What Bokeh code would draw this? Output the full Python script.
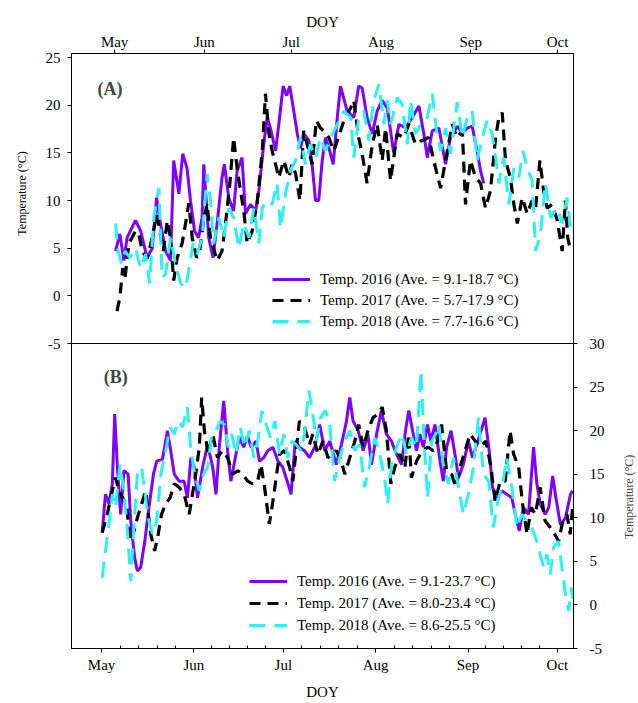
import math
from bokeh.plotting import figure
from bokeh.layouts import row
from bokeh.models import Range1d, FixedTicker, Legend, LegendItem, Label, LinearAxis, Span
from bokeh.embed import file_html
from bokeh.resources import INLINE

FONT = "Liberation Serif"
PURPLE = "#7F00FF"
CYAN = "#2AF2F2"

# Month ticks (day of year)
month_doy = [121, 152, 182, 213, 244, 274]
month_names = ["May", "Jun", "Jul", "Aug", "Sep", "Oct"]
ticks_a = [-5, 0, 5, 10, 15, 20, 25]
ticks_b = [-5, 0, 5, 10, 15, 20, 25, 30]
y_title = "Temperature (\u00b0C)"

legend_a = ["Temp. 2016 (Ave. = 9.1-18.7 \u00b0C)",
            "Temp. 2017 (Ave. = 5.7-17.9 \u00b0C)",
            "Temp. 2018 (Ave. = 7.7-16.6 \u00b0C)"]
legend_b = ["Temp. 2016 (Ave. = 9.1-23.7 \u00b0C)",
            "Temp. 2017 (Ave. = 8.0-23.4 \u00b0C)",
            "Temp. 2018 (Ave. = 8.6-25.5 \u00b0C)"]

# Panel A: (DOY, temperature)
a2016 = [(121.3, 4.7), (122.8, 6.5), (124.2, 3.7), (125.3, 6.1), (128.2, 7.9), (130.0, 6.8),
         (132.2, 4.0), (134.0, 5.0), (135.5, 10.3), (136.8, 7.6), (138.6, 4.7), (140.3, 3.7),
         (141.4, 14.2), (143.2, 10.7), (144.5, 14.9), (146.0, 13.4), (147.2, 10.0), (148.6, 6.8),
         (150.0, 6.1), (151.2, 8.2), (151.8, 13.8), (153.5, 6.1), (155.0, 4.0), (156.4, 7.6),
         (158.1, 12.4), (158.9, 13.8), (160.4, 10.3), (162.1, 8.9), (163.3, 13.1), (165.0, 14.5),
         (166.2, 8.6), (167.9, 9.6), (169.7, 8.9), (170.8, 11.0), (172.5, 15.9), (173.7, 18.7),
         (174.8, 17.6), (176.6, 15.2), (177.7, 18.0), (179.2, 22.0), (180.4, 21.0), (181.5, 22.0),
         (182.7, 19.7), (184.1, 17.0), (185.2, 15.5), (186.3, 17.0), (188.1, 16.3), (189.2, 13.8),
         (190.4, 10.0), (191.5, 10.0), (192.7, 14.2), (193.8, 16.6), (195.3, 15.2), (196.5, 13.8),
         (197.9, 18.7), (199.0, 22.0), (201.3, 19.4), (203.6, 18.7), (205.3, 22.0), (206.5, 21.8),
         (208.2, 18.7), (210.0, 17.0), (211.7, 19.4), (213.4, 20.5), (215.2, 19.7), (216.3, 17.3),
         (217.4, 15.0), (219.2, 18.0), (221.5, 17.6), (223.8, 18.7), (226.1, 19.9), (227.8, 17.0),
         (229.0, 14.5), (230.7, 17.3), (233.0, 17.6), (235.3, 13.8), (237.0, 16.6), (239.3, 17.8),
         (241.1, 17.1), (242.8, 17.6), (244.5, 17.8), (246.2, 15.2), (247.4, 13.1), (248.5, 11.8)]

a2017 = [(121.8, -1.6), (122.8, -0.2), (123.8, 2.9), (124.6, 1.9), (125.9, 5.5), (128.2, 6.8),
         (129.3, 6.6), (130.5, 4.7), (132.2, 3.9), (134.0, 6.1), (135.5, 8.6), (136.6, 6.8),
         (137.8, 4.7), (139.2, 7.9), (140.3, 6.1), (141.4, 1.6), (142.6, 4.0), (144.3, 5.5),
         (145.5, 7.6), (146.6, 9.7), (147.8, 6.1), (149.3, 4.0), (150.4, 4.7), (151.6, 7.6),
         (152.9, 9.7), (154.1, 6.1), (156.4, 3.7), (158.1, 4.7), (159.3, 7.6), (160.8, 11.8),
         (162.1, 16.6), (163.3, 13.4), (164.5, 11.0), (165.6, 8.9), (166.8, 5.5), (168.5, 6.8),
         (170.2, 9.7), (172.0, 15.2), (173.1, 21.2), (174.3, 17.0), (175.4, 15.2), (176.6, 13.8),
         (177.7, 12.4), (179.4, 14.2), (181.2, 12.4), (182.3, 13.8), (183.5, 12.8), (185.0, 10.0),
         (186.3, 17.3), (188.1, 15.2), (189.2, 13.8), (190.7, 18.4), (192.1, 17.6), (193.2, 17.3),
         (195.0, 16.6), (196.7, 15.2), (198.5, 16.8), (200.2, 18.4), (202.5, 19.7), (203.6, 20.5),
         (205.3, 16.6), (206.5, 14.9), (208.2, 11.8), (210.0, 15.9), (211.7, 18.0), (213.4, 14.2),
         (214.6, 17.6), (216.3, 12.1), (218.6, 17.0), (220.9, 16.6), (222.6, 18.0), (224.9, 15.9),
         (227.2, 16.3), (229.5, 16.6), (231.2, 14.2), (233.6, 11.3), (235.9, 15.2), (237.6, 18.0),
         (239.3, 16.6), (241.1, 17.3), (242.2, 9.6), (243.9, 14.2), (245.7, 12.4), (247.4, 11.8),
         (249.1, 9.2), (250.8, 11.0), (252.6, 16.6), (253.7, 18.7), (254.9, 19.2), (256.0, 14.2),
         (257.7, 12.4), (258.9, 9.6), (260.1, 7.6), (261.8, 10.3), (263.5, 8.6), (265.2, 10.0),
         (266.4, 9.2), (267.9, 14.2), (269.2, 11.0), (270.4, 9.2), (272.1, 9.6), (273.9, 7.9),
         (275.6, 4.7), (276.7, 10.0), (277.5, 6.1), (278.5, 4.7)]

a2018 = [(121.3, 7.6), (122.2, 4.7), (123.4, 3.4), (124.6, 4.7), (126.2, 4.0), (128.2, 5.0),
         (130.0, 2.9), (131.7, 4.4), (133.1, 1.3), (134.5, 8.2), (136.3, 11.3), (137.4, 1.9),
         (138.6, 2.3), (140.3, 6.1), (142.0, 3.4), (143.8, 1.3), (145.5, 0.8), (147.0, 3.4),
         (148.1, 5.5), (149.5, 4.4), (151.2, 6.1), (152.9, 12.8), (154.1, 10.0), (155.2, 5.5),
         (157.0, 8.2), (158.7, 6.1), (160.4, 9.2), (162.1, 8.2), (163.9, 5.0), (165.6, 7.6),
         (167.4, 6.1), (169.1, 9.2), (170.8, 5.5), (172.0, 9.2), (173.7, 10.0), (175.4, 9.6),
         (177.1, 11.8), (178.3, 7.1), (180.0, 10.7), (181.7, 13.1), (183.5, 14.2), (185.2, 16.6),
         (186.9, 13.8), (188.6, 15.9), (190.4, 14.5), (192.1, 16.6), (193.8, 15.2), (195.6, 16.6),
         (197.3, 17.6), (200.2, 19.4), (202.5, 18.7), (203.6, 14.5), (205.3, 18.7), (207.1, 19.4),
         (208.8, 16.3), (210.5, 20.5), (212.3, 22.2), (214.0, 18.0), (215.2, 20.5), (216.3, 18.0),
         (218.6, 20.8), (220.3, 20.1), (222.1, 15.9), (223.2, 20.5), (224.9, 17.0), (226.7, 18.0),
         (229.0, 18.7), (230.7, 21.2), (232.2, 17.3), (233.6, 15.2), (235.3, 17.6), (237.0, 14.9),
         (239.3, 20.3), (241.1, 16.6), (242.8, 18.7), (244.5, 19.4), (246.2, 14.2), (248.0, 16.6),
         (249.7, 18.4), (251.4, 17.0), (252.6, 14.5), (253.7, 11.8), (255.4, 14.5), (257.2, 9.6),
         (258.9, 13.4), (260.6, 12.4), (262.1, 15.2), (263.5, 13.4), (265.2, 12.1), (266.4, 4.7),
         (268.1, 6.5), (269.8, 11.8), (271.6, 8.2), (273.9, 9.2), (275.6, 7.6), (277.3, 10.3),
         (278.5, 7.1)]

# Panel B: (DOY, temperature)
b2016 = [(121.2, 8.3), (122.3, 12.7), (123.5, 11.6), (124.6, 13.9), (125.4, 21.9), (126.3, 15.8),
         (127.4, 10.4), (128.5, 15.4), (129.9, 15.0), (130.8, 9.6), (132.1, 5.4), (133.0, 3.9),
         (134.1, 4.3), (135.5, 7.3), (136.9, 11.2), (138.4, 15.0), (139.5, 16.5), (141.4, 16.7),
         (143.1, 20.0), (144.2, 17.7), (145.4, 15.0), (147.0, 14.2), (148.7, 14.2), (149.8, 12.3),
         (151.0, 16.9), (152.1, 15.8), (153.2, 12.3), (154.9, 15.8), (156.6, 18.4), (158.3, 15.8),
         (159.4, 12.7), (160.5, 18.1), (162.0, 23.4), (163.3, 17.7), (164.4, 14.2), (166.1, 17.3),
         (167.2, 19.2), (168.7, 18.1), (170.0, 19.4), (171.2, 18.1), (172.8, 18.8), (174.0, 16.5),
         (175.4, 16.9), (176.8, 17.7), (178.5, 18.1), (180.2, 16.5), (181.8, 15.8), (183.3, 14.2),
         (184.6, 12.7), (186.0, 18.8), (187.4, 18.1), (189.1, 17.7), (190.8, 16.9), (192.5, 18.1),
         (194.2, 20.7), (195.9, 17.7), (197.6, 18.8), (199.8, 16.1), (201.5, 18.4), (203.2, 21.1),
         (204.3, 23.8), (205.4, 21.1), (207.1, 20.0), (208.8, 17.7), (210.4, 19.6), (211.6, 16.1),
         (213.3, 19.6), (214.9, 22.3), (216.6, 19.6), (218.3, 18.8), (220.0, 17.3), (221.7, 16.1),
         (223.0, 20.0), (224.1, 22.3), (225.6, 19.6), (226.7, 17.7), (227.8, 19.6), (229.0, 18.1),
         (230.4, 20.7), (231.5, 18.8), (232.9, 20.7), (234.6, 16.5), (235.7, 14.2), (236.8, 18.1),
         (238.3, 20.0), (239.6, 17.3), (240.8, 14.6), (242.4, 16.1), (244.1, 18.8), (245.5, 16.9),
         (246.9, 18.4), (248.4, 20.0), (249.7, 21.5), (251.1, 17.7), (252.2, 13.5), (253.7, 12.3),
         (255.3, 13.1), (257.0, 12.7), (258.7, 12.3), (260.1, 10.0), (261.2, 8.5), (262.6, 11.2),
         (264.3, 10.4), (266.0, 18.1), (267.1, 13.9), (268.2, 11.6), (269.9, 10.4), (271.1, 11.2),
         (272.4, 14.8), (273.5, 12.3), (275.0, 9.2), (276.7, 10.0), (278.4, 12.7), (279.1, 13.1)]

b2017 = [(121.2, 8.3), (122.9, 10.4), (124.6, 13.1), (125.7, 14.6), (126.8, 13.1), (128.0, 12.3),
         (129.4, 11.6), (130.5, 7.3), (131.9, 8.5), (133.0, 10.0), (134.1, 11.2), (135.8, 13.1),
         (137.5, 8.1), (138.8, 6.2), (140.0, 8.1), (141.1, 10.4), (142.5, 11.6), (144.0, 12.3),
         (145.4, 13.9), (147.0, 13.5), (148.7, 12.7), (150.4, 10.4), (151.5, 12.7), (152.6, 15.0),
         (153.8, 18.1), (154.6, 23.8), (155.5, 20.0), (156.8, 17.3), (158.3, 19.6), (159.9, 16.9),
         (161.6, 17.7), (163.3, 16.9), (165.0, 15.0), (166.7, 15.4), (168.4, 15.0), (170.0, 14.2),
         (171.7, 13.9), (173.4, 14.2), (174.5, 16.1), (175.7, 13.5), (177.3, 9.3), (178.5, 11.9),
         (179.6, 14.6), (180.7, 17.3), (182.4, 17.7), (184.1, 15.8), (185.2, 14.2), (186.3, 17.7),
         (187.4, 21.1), (189.1, 20.4), (190.8, 18.4), (191.9, 19.6), (193.6, 17.3), (195.3, 18.8),
         (197.0, 16.9), (199.8, 17.7), (201.5, 16.5), (202.6, 15.0), (204.3, 16.9), (206.0, 18.8),
         (207.3, 20.7), (208.8, 18.1), (210.4, 20.0), (212.1, 21.5), (213.8, 21.9), (215.2, 22.7),
         (216.6, 20.0), (218.1, 13.9), (219.4, 15.8), (221.1, 17.3), (222.8, 15.8), (224.1, 19.6),
         (225.0, 14.6), (226.7, 16.5), (228.6, 17.7), (230.6, 18.1), (232.3, 17.7), (233.8, 18.8),
         (235.1, 20.7), (236.8, 15.4), (238.5, 15.0), (239.9, 13.5), (241.3, 15.8), (243.0, 17.7),
         (244.7, 19.6), (246.4, 18.8), (248.0, 18.1), (250.0, 18.8), (251.7, 15.8), (253.1, 11.9),
         (254.8, 14.2), (256.5, 14.2), (258.1, 20.0), (259.3, 17.3), (261.0, 15.8), (262.3, 11.6),
         (263.8, 8.1), (265.2, 11.2), (266.6, 10.4), (268.2, 13.5), (269.9, 9.6), (271.6, 8.9),
         (273.1, 8.1), (274.4, 7.3), (275.8, 9.6), (277.2, 10.4), (278.3, 8.1), (279.1, 11.2)]

b2018 = [(121.2, 3.1), (122.3, 6.2), (123.5, 9.3), (124.6, 12.7), (125.7, 11.2), (127.2, 16.1),
         (128.3, 13.5), (129.6, 8.9), (130.8, 2.7), (131.9, 9.3), (133.0, 15.0), (134.4, 15.8),
         (135.5, 13.1), (136.6, 10.0), (138.1, 8.1), (139.5, 9.6), (140.9, 15.0), (142.5, 17.7),
         (144.0, 20.4), (145.4, 19.6), (146.7, 21.1), (148.2, 20.4), (149.8, 22.7), (151.0, 17.7),
         (152.3, 15.0), (153.8, 13.1), (155.2, 15.0), (156.6, 15.8), (158.0, 19.6), (159.4, 20.0),
         (160.8, 21.1), (162.2, 20.7), (163.5, 18.1), (164.7, 19.6), (166.1, 17.3), (167.6, 20.4),
         (168.9, 18.1), (170.6, 20.0), (172.1, 16.9), (173.4, 18.8), (174.8, 22.3), (176.2, 20.7),
         (177.7, 19.2), (179.2, 21.1), (180.7, 17.3), (182.2, 19.6), (183.5, 16.9), (184.9, 18.8),
         (186.3, 18.4), (187.8, 17.7), (189.1, 19.6), (190.5, 24.6), (191.6, 22.7), (193.1, 18.8),
         (194.5, 21.5), (196.1, 22.3), (197.5, 21.1), (199.2, 14.2), (200.9, 16.9), (202.6, 18.8),
         (204.3, 20.0), (206.0, 17.7), (207.6, 18.4), (209.3, 13.5), (211.0, 16.1), (212.7, 19.2),
         (214.4, 17.3), (216.1, 14.2), (217.0, 11.6), (218.3, 16.1), (220.0, 18.1), (221.7, 19.6),
         (223.4, 17.3), (225.0, 19.2), (226.7, 18.1), (228.2, 26.9), (229.3, 18.4), (230.4, 12.3),
         (231.8, 18.8), (233.1, 19.6), (234.2, 20.7), (235.7, 16.1), (237.4, 13.9), (239.1, 16.9),
         (240.8, 13.5), (242.4, 10.4), (244.1, 12.7), (245.8, 15.8), (247.5, 21.5), (249.2, 15.0),
         (250.9, 14.2), (252.5, 8.9), (254.0, 11.9), (255.6, 13.9), (257.0, 16.9), (258.7, 13.5),
         (260.4, 8.9), (262.1, 10.4), (263.8, 9.6), (265.4, 8.9), (267.1, 7.3), (268.2, 5.8),
         (269.4, 4.3), (270.5, 5.8), (271.6, 3.5), (272.7, 6.6), (274.4, 7.3), (275.5, 4.3),
         (276.7, 1.2), (277.8, -0.7), (278.7, 2.0), (279.5, -0.3)]


def xs(pairs):
    return [p[0] for p in pairs]


def ys(pairs):
    return [p[1] for p in pairs]


def style_axis(ax):
    ax.axis_line_color = "black"
    ax.axis_line_width = 1
    ax.major_tick_line_color = "black"
    ax.major_tick_in = 0
    ax.major_tick_out = 4
    ax.minor_tick_line_color = None
    ax.major_label_text_font = FONT
    ax.major_label_text_font_size = "15px"
    ax.major_label_text_color = "black"
    ax.axis_label_text_font = FONT
    ax.axis_label_text_font_style = "normal"
    ax.axis_label_text_color = "black"
    ax.axis_label_text_font_size = "15px"


H = 702

# One frame holds both panels: panel A (upper) uses x range "A" and the
# default y range, panel B (lower) uses the default x range and y range "B".
p = figure(width=618, height=H,
           x_range=Range1d(110.9, 279.4), y_range=Range1d(-36.99, 25.42),
           x_axis_location=None, y_axis_location=None,
           output_backend="svg", toolbar_location=None,
           min_border_left=71, min_border_right=45, min_border_top=53, min_border_bottom=54)
p.extra_x_ranges = {"A": Range1d(106.1, 279.5)}
p.extra_y_ranges = {"B": Range1d(-5, 63.28)}
p.xgrid.visible = False
p.ygrid.visible = False
p.outline_line_color = "black"
p.outline_line_width = 1
p.outline_line_alpha = 1

NBSP = "\u00a0"

# top axis (panel A)
ax_top = LinearAxis(x_range_name="A", ticker=FixedTicker(ticks=month_doy),
                    major_label_overrides={d: n for d, n in zip(month_doy, month_names)},
                    axis_label="DOY")
style_axis(ax_top)
ax_top.major_label_standoff = 0
ax_top.axis_label_standoff = 1
p.add_layout(ax_top, "above")

# left axis (panel A); the title is padded so that it sits beside panel A
ax_left = LinearAxis(ticker=FixedTicker(ticks=ticks_a),
                     major_label_overrides={t: str(t) for t in ticks_a},
                     axis_label=NBSP * 105 + y_title)
style_axis(ax_left)
ax_left.axis_label_text_font_size = "12px"
ax_left.major_label_standoff = 7
ax_left.axis_label_standoff = 14
p.add_layout(ax_left, "left")

# bottom axis (panel B)
minor_b = []
for i in range(len(month_doy) - 1):
    a, b = month_doy[i], month_doy[i + 1]
    for k in range(1, 5):
        minor_b.append(a + (b - a) * k / 5.0)
ax_bot = LinearAxis(ticker=FixedTicker(ticks=month_doy, minor_ticks=minor_b),
                    major_label_overrides={d: n for d, n in zip(month_doy, month_names)},
                    axis_label="DOY")
style_axis(ax_bot)
ax_bot.minor_tick_line_color = "black"
ax_bot.minor_tick_in = 3
ax_bot.minor_tick_out = 0
ax_bot.major_label_standoff = 4
ax_bot.axis_label_standoff = 8
p.add_layout(ax_bot, "below")

# right axis (panel B)
ax_right = LinearAxis(y_range_name="B", ticker=FixedTicker(ticks=ticks_b),
                      major_label_overrides={t: str(t) for t in ticks_b})
style_axis(ax_right)
ax_right.major_label_standoff = 12
p.add_layout(ax_right, "right")

# separator between the panels (panel A's -5 = panel B's 30)
p.add_layout(Span(location=ticks_a[0], dimension="width", line_color="black", line_width=1))


def add_series(d16, d17, d18, labels, loc, spacing, xname, yname):
    kw = {}
    if xname:
        kw["x_range_name"] = xname
    if yname:
        kw["y_range_name"] = yname
    r16 = p.line(xs(d16), ys(d16), line_color=PURPLE, line_width=3, **kw)
    r17 = p.line(xs(d17), ys(d17), line_color="black", line_width=3.2, line_dash="11 7", **kw)
    r18 = p.line(xs(d18), ys(d18), line_color=CYAN, line_width=3, line_dash="16 9", **kw)
    leg = Legend(items=[LegendItem(label=labels[0], renderers=[r16]),
                        LegendItem(label=labels[1], renderers=[r17]),
                        LegendItem(label=labels[2], renderers=[r18])],
                 location=loc, orientation="vertical",
                 border_line_color=None, background_fill_alpha=0,
                 padding=0, margin=0, spacing=spacing,
                 label_height=20, glyph_height=20, glyph_width=38, label_standoff=10,
                 label_text_font=FONT, label_text_font_size="15px", label_text_color="black")
    p.add_layout(leg)


add_series(a2016, a2017, a2018, legend_a, (201, 317), 1, "A", None)
add_series(b2016, b2017, b2018, legend_b, (178, 13), 2, None, "B")

p.add_layout(Label(x=115.1, y=21.7, x_range_name="A", text="(A)", text_font=FONT,
                   text_font_style="bold", text_font_size="18px",
                   text_baseline="middle", text_align="left"))
p.add_layout(Label(x=121.7, y=26.1, y_range_name="B", text="(B)", text_font=FONT,
                   text_font_style="bold", text_font_size="18px",
                   text_baseline="middle", text_align="left"))

# narrow strip on the right that carries panel B's axis title (reads bottom-to-top)
q = figure(width=20, height=H, x_range=Range1d(0, 1), y_range=Range1d(0, H),
           x_axis_location=None, y_axis_location=None,
           output_backend="svg", toolbar_location=None,
           min_border_left=0, min_border_right=0, min_border_top=0, min_border_bottom=0)
q.xgrid.visible = False
q.ygrid.visible = False
q.outline_line_color = None
q.add_layout(Label(x=0.5, y=H - 523, text=y_title, angle=math.pi / 2,
                   text_font=FONT, text_font_size="12px", text_align="center",
                   text_baseline="middle"))

layout = row(p, q, spacing=0)
open("out.html", "w").write(file_html(layout, INLINE))
